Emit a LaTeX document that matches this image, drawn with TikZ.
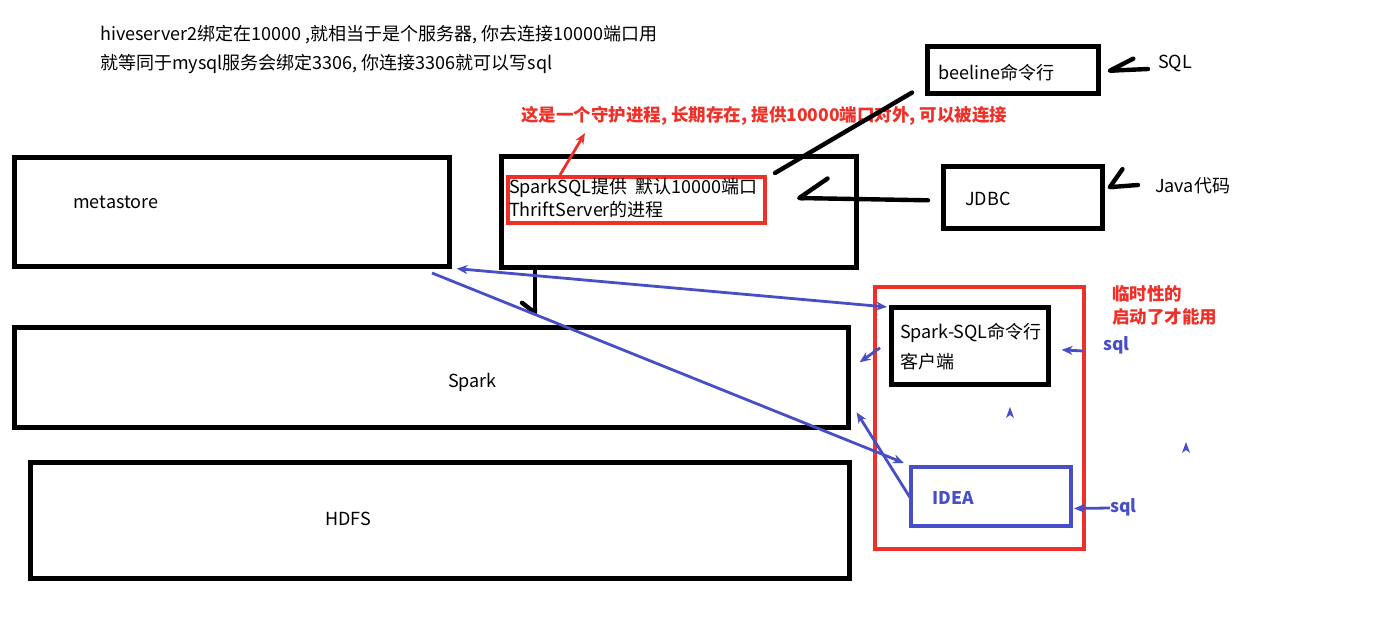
\documentclass[tikz,border=0pt]{standalone}
\usepackage{fontspec}
\setmainfont{Noto Sans CJK SC}
\usetikzlibrary{arrows.meta,positioning}

\definecolor{penblue}{RGB}{72,78,198}
\definecolor{penred}{RGB}{238,48,40}

\tikzset{
  box/.style={draw, line width=4.6pt, anchor=north west, inner sep=0pt},
  redbox/.style={box, draw=penred, line width=3.8pt},
  bluebox/.style={box, draw=penblue, line width=4pt},
  txt/.style={anchor=west, inner sep=0pt, font=\fontsize{18}{21}\selectfont},
  note/.style={txt, text=penred, font=\fontsize{17.5}{20}\selectfont\bfseries},
  bluetxt/.style={txt, text=penblue, font=\fontsize{17.5}{20}\selectfont\bfseries},
  pen/.style={line width=4.4pt, line cap=round, line join=round},
  hook/.style={pen, -{Straight Barb[right,round,#1]}},
  blueline/.style={draw=penblue, line width=2.8pt, -{Stealth[length=11pt,width=9pt]}},
  redline/.style={draw=penred, line width=2.8pt, -{Stealth[length=11pt,width=9pt]}},
}

\begin{document}
\begin{tikzpicture}[x=1pt,y=-1pt]
  \useasboundingbox (0,0) rectangle (1386,639);

  % the two lines at the top
  \node[txt] (hive line)  at (100,35) {hiveserver2绑定在10000 ,就相当于是个服务器, 你去连接10000端口用};
  \node[txt] (mysql line) at (100,64) {就等同于mysql服务会绑定3306, 你连接3306就可以写sql};

  % left column
  \node[box, minimum width=435pt, minimum height=109pt] (metastore) at (12,155) {};
  \node[box, minimum width=834pt, minimum height=100pt] (spark)     at (12,325) {};
  \node[box, minimum width=819pt, minimum height=116pt] (hdfs)      at (28,460) {};
  \node[txt] (metastore label) at (73,202)  {metastore};
  \node[txt] (spark label)     at (448,382) {Spark};
  \node[txt] (hdfs label)      at (325,519) {HDFS};

  % thrift server
  \node[box, minimum width=355pt, minimum height=111pt] (thrift) at (499,154) {};
  \node[redbox, minimum width=257pt, minimum height=46pt] (thrift port) at (506,175) {};
  \node[txt] (thrift line one) at (509,188) {SparkSQL提供\ \ 默认10000端口};
  \node[txt] (thrift line two) at (509,210) {ThriftServer的进程};
  \node[note] (daemon note) at (521,116) {这是一个守护进程, 长期存在, 提供10000端口对外, 可以被连接};

  % clients of the thrift server
  \node[box, minimum width=171pt, minimum height=47pt] (beeline) at (925,44)  {};
  \node[box, minimum width=159pt, minimum height=62pt] (jdbc)    at (941,164) {};
  \node[txt] (beeline label) at (938,73)   {beeline命令行};
  \node[txt] (jdbc label)    at (965,199)  {JDBC};
  \node[txt] (sql upper)     at (1158,63)  {SQL};
  \node[txt] (java label)    at (1155,186) {Java代码};

  % temporary clients
  \node[redbox, minimum width=209pt, minimum height=262pt] (temporary) at (873,285) {};
  \node[box, minimum width=157pt, minimum height=77pt] (sqlcli) at (889,305) {};
  \node[bluebox, minimum width=160pt, minimum height=59pt] (idea) at (909,465) {};
  \node[txt] (sqlcli line one) at (900,333) {Spark-SQL命令行};
  \node[txt] (sqlcli line two) at (900,362) {客户端};
  \node[bluetxt] (idea label)  at (932,498) {IDEA};
  \node[note] (temporary one)  at (1112,294) {临时性的};
  \node[note] (temporary two)  at (1112,317) {启动了才能用};
  \node[bluetxt] (sql one)     at (1103,345) {sql};
  \node[bluetxt] (sql two)     at (1110,507) {sql};

  \coordinate (beeline tail) at (775,173);
  \coordinate (jdbc tip)     at (797,198);
  \coordinate (spark tip)    at (535,315);
  \coordinate (note tip)     at (585,133);
  \coordinate (meta tail)    at (432,273);

  % black pen strokes
  \draw[pen] ([shift={(-13,-3)}]beeline.south west) -- (beeline tail);
  \draw[hook={length=28pt,width=40pt}] ([shift={(-13,3)}]jdbc.west) -- (jdbc tip);
  \draw[hook={length=24pt,width=22pt}] ([shift={(-10,6)}]sql upper.west) -- ([shift={(7,1)}]beeline.east);
  \draw[hook={length=14pt,width=34pt}] ([shift={(-17,-1)}]java label.west) -- ([shift={(3,-10)}]jdbc.east);
  \draw[hook={length=10pt,width=26pt}] (thrift.south -| spark tip) -- (spark tip);
  \draw[redline] ([xshift=54pt]thrift port.north west) -- (note tip);

  % blue pen strokes
  \draw[blueline, {Stealth[length=11pt,width=9pt]}-{Stealth[length=11pt,width=9pt]}]
    ([xshift=5pt]metastore.south east) -- ([shift={(-2,2)}]sqlcli.north west);
  \draw[blueline] (meta tail) -- ([shift={(-5,-2)}]idea.north west);
  \draw[blueline] ([shift={(1,1)}]idea.west) -- ([shift={(6,35)}]spark.east);
  \draw[blueline] ([shift={(-9,2)}]sqlcli.west) -- ([shift={(9,-15)}]spark.east);
  \draw[blueline] ([shift={(-20,6)}]sql one.west) -- ([shift={(11,4)}]sqlcli.east);
  \draw[blueline] ([shift={(0,1)}]sql two.west) -- ([shift={(1,12)}]idea.east);

  % two loose arrow heads
  \fill[penblue] (1010,407) -- (1014,418) -- (1010,415) -- (1006,418) -- cycle;
  \fill[penblue] (1186,442) -- (1190,453) -- (1186,450) -- (1182,453) -- cycle;
\end{tikzpicture}
\end{document}
